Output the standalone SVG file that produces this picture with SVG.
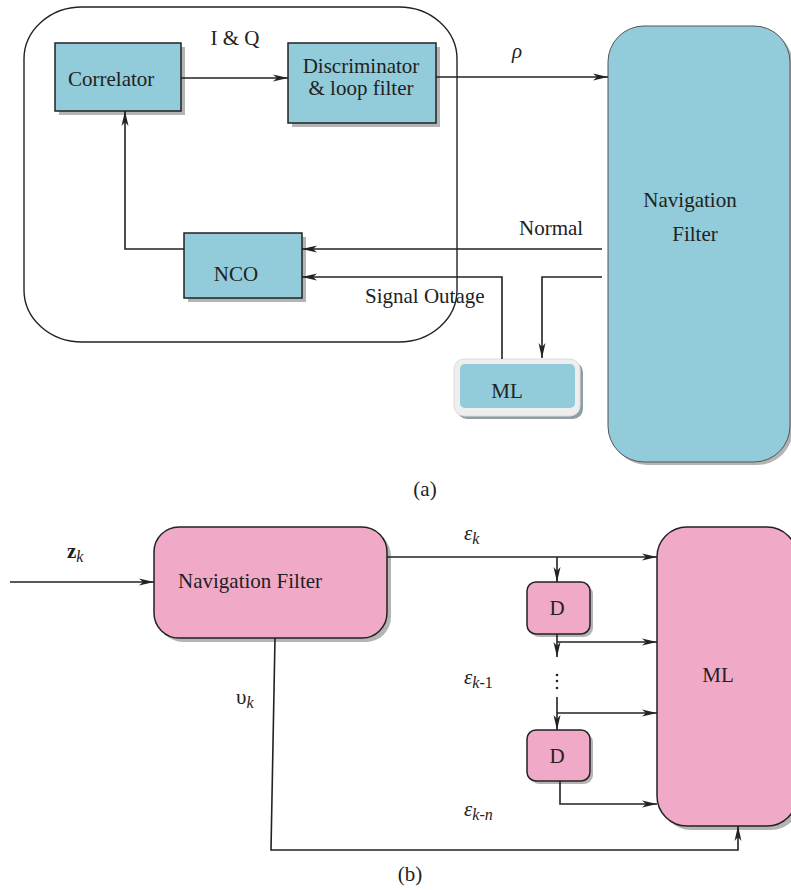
<svg xmlns="http://www.w3.org/2000/svg" width="791" height="890" viewBox="0 0 791 890">
<style>
text{font-family:"Liberation Serif","Times New Roman",serif;font-size:21px;fill:#222}
.teal{fill:#92cbd9;stroke:#222;stroke-width:1.5}
.pink{fill:#f0aac8;stroke:#222;stroke-width:1.5}
.sh{fill:#b4b4b4}
.ln{fill:none;stroke:#222;stroke-width:1.6}
.it{font-style:italic}
</style>
<defs>
<marker id="ah" viewBox="0 0 15 8" refX="15" refY="4" markerWidth="15" markerHeight="8" markerUnits="userSpaceOnUse" orient="auto">
<path d="M0,0.5 L15,4 L0,7.5 L4,4 Z" fill="#222"/>
</marker>
</defs>
<rect x="0" y="0" width="791" height="890" fill="#fff"/>

<g id="loop">
<rect x="24" y="7" width="433" height="335" rx="58" ry="52" fill="none" stroke="#222" stroke-width="1.4"/>
</g>
<g id="correlator">
<rect class="sh" x="59" y="47" width="126" height="68"/>
<rect class="teal" x="55" y="43" width="126" height="68"/>
<text x="68" y="86">Correlator</text>
</g>
<g id="discriminator">
<rect class="sh" x="292" y="47" width="148" height="80"/>
<rect class="teal" x="288" y="43" width="148" height="80"/>
<text x="361" y="73" text-anchor="middle">Discriminator</text>
<text x="361" y="95" text-anchor="middle">&amp; loop filter</text>
</g>
<g id="nco">
<rect class="sh" x="188" y="237" width="118" height="65"/>
<rect class="teal" x="184" y="233" width="118" height="65"/>
<text x="236" y="281" text-anchor="middle">NCO</text>
</g>
<g id="navfilter-a">
<rect class="sh" x="611" y="29" width="182" height="436" rx="36"/>
<rect x="608" y="26" width="182" height="436" rx="36" fill="#92cbd9" stroke="#555" stroke-width="1"/>
<text x="690" y="207" text-anchor="middle">Navigation</text>
<text x="695" y="241" text-anchor="middle">Filter</text>
</g>
<g id="ml-a">
<rect x="457" y="362" width="126" height="57" rx="10" fill="#8e9ea5"/>
<rect x="454" y="359" width="126" height="57" rx="10" fill="#eeeeee" stroke="#dcdcdc" stroke-width="1"/>
<rect x="460" y="364" width="115" height="44" rx="5" fill="#92cbd9"/>
<text x="507" y="398" text-anchor="middle">ML</text>
</g>
<g id="labels-a">
<text x="235" y="45" text-anchor="middle">I &amp; Q</text>
<text x="512" y="58" class="it">ρ</text>
<text x="519" y="235">Normal</text>
<text x="365" y="303">Signal Outage</text>
<text x="425" y="496" text-anchor="middle">(a)</text>
</g>

<g id="nf-b">
<rect class="sh" x="158" y="531" width="233" height="111" rx="25"/>
<rect class="pink" x="154" y="527" width="233" height="111" rx="25"/>
<text x="178" y="588">Navigation Filter</text>
</g>
<g id="ml-b">
<rect class="sh" x="661" y="531" width="140" height="299" rx="30"/>
<rect class="pink" x="657" y="527" width="140" height="299" rx="30"/>
<text x="718" y="682" text-anchor="middle">ML</text>
</g>
<g id="d1">
<rect class="sh" x="530" y="585" width="63" height="52" rx="9"/>
<rect class="pink" x="527" y="582" width="63" height="52" rx="9"/>
<text x="557" y="615" text-anchor="middle">D</text>
</g>
<g id="d2">
<rect class="sh" x="530" y="733" width="63" height="51" rx="9"/>
<rect class="pink" x="527" y="730" width="63" height="51" rx="9"/>
<text x="557" y="763" text-anchor="middle">D</text>
</g>
<g id="labels-b">
<text x="67" y="558" font-weight="bold">z<tspan class="it" font-weight="normal" font-size="16" dy="4">k</tspan></text>
<text x="464" y="540" class="it">ε<tspan font-size="16" dy="4">k</tspan></text>
<text x="464" y="684" class="it">ε<tspan font-size="16" dy="4">k-</tspan><tspan font-size="16" font-style="normal">1</tspan></text>
<text x="464" y="816" class="it">ε<tspan font-size="16" dy="4">k-n</tspan></text>
<text x="236" y="704">υ<tspan class="it" font-size="16" dy="4">k</tspan></text>
<circle cx="557" cy="675" r="1.3" fill="#222"/>
<circle cx="557" cy="681" r="1.3" fill="#222"/>
<circle cx="557" cy="688" r="1.3" fill="#222"/>
<text x="410" y="881" text-anchor="middle">(b)</text>
</g>

<g id="connectors">
<path class="ln" d="M181,78 H288" marker-end="url(#ah)"/>
<path class="ln" d="M436,77 H608" marker-end="url(#ah)"/>
<path class="ln" d="M184,249 H125 V111" marker-end="url(#ah)"/>
<path class="ln" d="M602,249 H302" marker-end="url(#ah)"/>
<path class="ln" d="M502,359 V277 H302" marker-end="url(#ah)"/>
<path class="ln" d="M602,277 H542 V358" marker-end="url(#ah)"/>

<path class="ln" d="M10,582 H154" marker-end="url(#ah)"/>
<path class="ln" d="M387,557 H657" marker-end="url(#ah)"/>
<path class="ln" d="M557,557 V582" marker-end="url(#ah)"/>
<path class="ln" d="M557,634 V657" marker-end="url(#ah)"/>
<path class="ln" d="M557,642 H657" marker-end="url(#ah)"/>
<path class="ln" d="M557,697 V730" marker-end="url(#ah)"/>
<path class="ln" d="M557,713 H657" marker-end="url(#ah)"/>
<path class="ln" d="M560,781 V804 H657" marker-end="url(#ah)"/>
<path class="ln" d="M275,638 L271,850 H738 V826" marker-end="url(#ah)"/>
</g>
</svg>
